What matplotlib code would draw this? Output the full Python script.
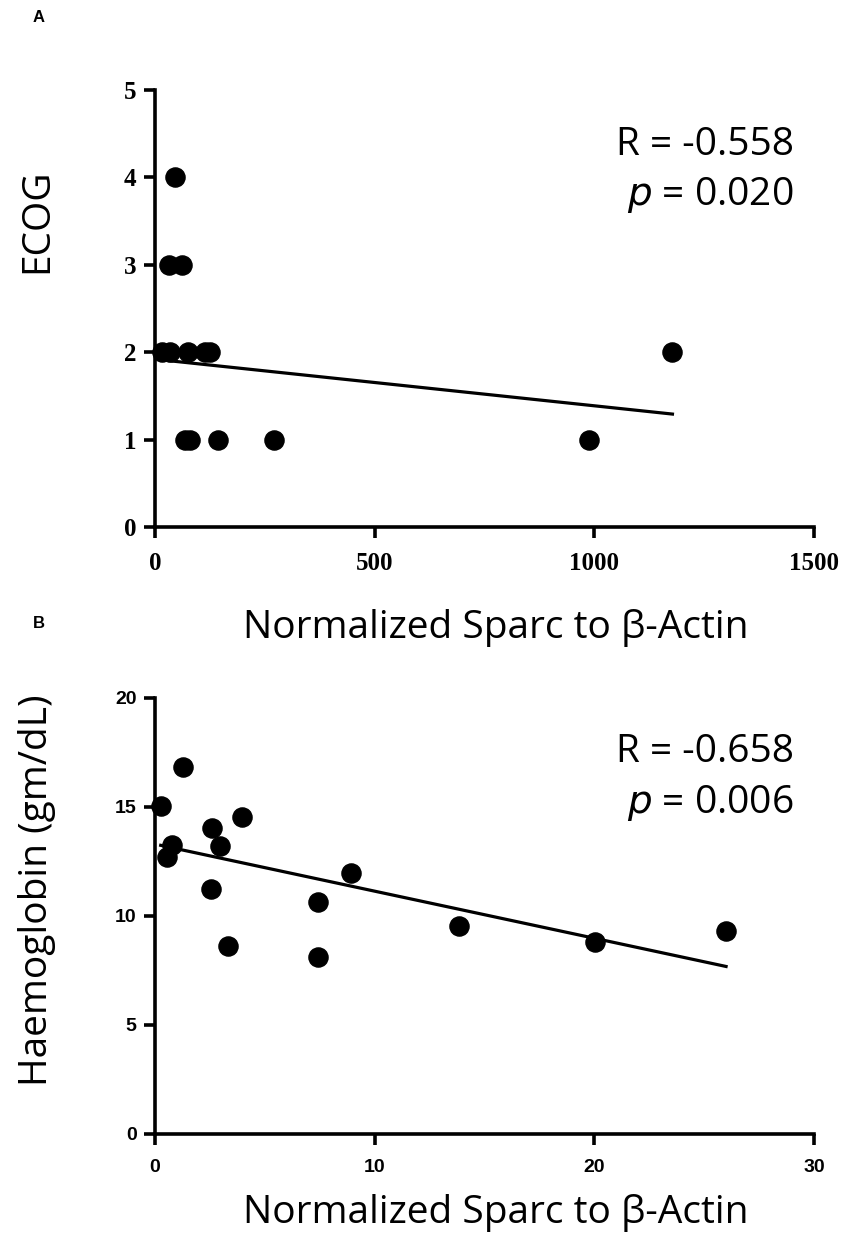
import matplotlib
matplotlib.use("Agg")
import matplotlib.pyplot as plt
import numpy as np

# panel A: ECOG vs normalized Sparc
sparc_a = [46, 32, 62, 16, 35, 76, 114, 126, 1178, 69, 80, 144, 271, 988]
ecog = [4, 3, 3, 2, 2, 2, 2, 2, 2, 1, 1, 1, 1, 1]
fit_a = (1.92, -0.000533)   # intercept, slope as drawn in the figure
stats_a = ("-0.558", "0.020")
xticks_a = [0, 500, 1000, 1500]
yticks_a = [0, 1, 2, 3, 4, 5]

# panel B: haemoglobin vs normalized Sparc
sparc_b = [1.27, 0.27, 3.96, 2.59, 0.80, 2.97, 0.54, 8.94, 2.56, 7.42, 3.35,
           7.42, 13.83, 20.02, 26.0]
hb = [16.85, 15.05, 14.56, 14.05, 13.26, 13.23, 12.72, 11.96, 11.24, 10.64,
      8.64, 8.13, 9.54, 8.82, 9.33]
fit_b = (13.30, -0.216)
stats_b = ("-0.658", "0.006")
xticks_b = [0, 10, 20, 30]
yticks_b = [0, 5, 10, 15, 20]

xlabel = "Normalized Sparc to β-Actin"
label_font = "Open Sans"

fig = plt.figure(figsize=(8.44, 12.4), dpi=100)
ax1 = fig.add_axes([0.1834, 0.5750, 0.7810, 0.3524])
ax2 = fig.add_axes([0.1834, 0.0855, 0.7810, 0.3516])


def panel(ax, x, y, fit, stats, ylab, xticks, yticks, tick_font, tsize,
          ylab_y, xlab_y):
    ax.scatter(x, y, s=190, color="black", zorder=3, clip_on=False)
    xs = np.array([min(x), max(x)])
    ax.plot(xs, fit[0] + fit[1] * xs, color="black", lw=2.3, zorder=2)
    ax.set_xlim(xticks[0], xticks[-1])
    ax.set_ylim(yticks[0], yticks[-1])
    tk = dict(fontsize=tsize, fontweight="bold", family=tick_font)
    ax.set_xticks(xticks, [str(v) for v in xticks], **tk)
    ax.set_yticks(yticks, [str(v) for v in yticks], **tk)
    for s in ["top", "right"]:
        ax.spines[s].set_visible(False)
    for s in ["left", "bottom"]:
        ax.spines[s].set_linewidth(2.6)
        ax.spines[s].set_capstyle("projecting")
    ax.tick_params(width=2.6, length=8, direction="out")
    ax.tick_params(axis="x", pad=10)
    ax.tick_params(axis="y", pad=5)

    ax.set_xlabel(xlabel, fontsize=28, family=label_font, va="center")
    ax.xaxis.set_label_coords(0.517, xlab_y)
    ax.set_ylabel(ylab, fontsize=28, family=label_font, va="center")
    ax.yaxis.set_label_coords(-0.179, ylab_y)
    ax.text(0.835, 0.875, "R = " + stats[0], transform=ax.transAxes,
            fontsize=28, family=label_font, ha="center", va="center")
    ax.text(0.843, 0.76, "$\\it{p}$ = " + stats[1], transform=ax.transAxes,
            fontsize=28, family=label_font, ha="center", va="center")


panel(ax1, sparc_a, ecog, fit_a, stats_a, "ECOG", xticks_a, yticks_a,
      "Liberation Serif", 18, 0.70, -0.231)
panel(ax2, sparc_b, hb, fit_b, stats_b, "Haemoglobin (gm/dL)", xticks_b, yticks_b,
      "Liberation Sans", 14, 0.56, -0.181)

fig.text(0.046, 0.9855, "A", fontsize=12, fontweight="bold", family="Liberation Sans",
         ha="center", va="center")
fig.text(0.046, 0.497, "B", fontsize=12, fontweight="bold", family="Liberation Sans",
         ha="center", va="center")

fig.savefig("out.png", dpi=100)
